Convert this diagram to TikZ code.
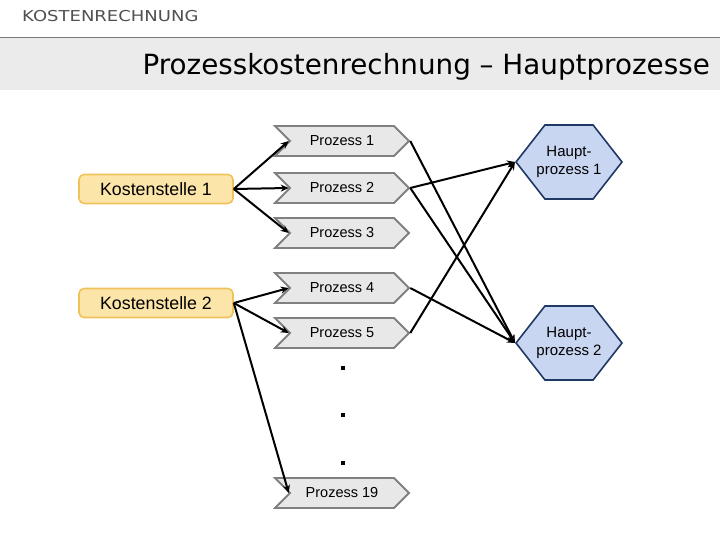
\documentclass[tikz,border=0pt]{standalone}
\usepackage{fontspec}
\setmainfont{Liberation Sans}
\newfontfamily\titlefont{DejaVu Sans}
\usepackage{tikz}
\usetikzlibrary{shapes.symbols, arrows.meta}
\definecolor{bandgray}{RGB}{235,235,235}
\definecolor{linegray}{RGB}{120,120,120}
\definecolor{headgray}{RGB}{80,80,80}
\definecolor{kfill}{RGB}{252,229,168}
\definecolor{kdraw}{RGB}{240,194,90}
\definecolor{pfill}{RGB}{232,232,232}
\definecolor{pdraw}{RGB}{128,128,128}
\definecolor{hfill}{RGB}{201,214,242}
\definecolor{hdraw}{RGB}{31,56,100}
\tikzstyle{kstelle} = [rectangle, rounded corners=5pt, minimum width=154pt, minimum height=29pt, fill=kfill, draw=kdraw, line width=1.6pt, font=\fontsize{17.8}{20}\selectfont]
\tikzstyle{prozess} = [signal, signal to=east, signal from=west, signal pointer angle=90, minimum width=134pt, minimum height=30pt, fill=pfill, draw=pdraw, line width=1.8pt, font=\fontsize{14.5}{17}\selectfont]
\tikzstyle{haupt} = [signal, signal to=west and east, signal pointer angle=104, minimum width=106pt, minimum height=74pt, fill=hfill, draw=hdraw, line width=1.6pt]
\tikzstyle{hauptlabel} = [align=center, font=\fontsize{15}{18}\selectfont]
\tikzstyle{punkt} = [rectangle, fill=black, minimum size=3.5pt, inner sep=0pt]
\tikzstyle{arrow} = [line width=2pt, -{Stealth[length=8pt, width=7pt]}]

\begin{document}
\begin{tikzpicture}[x=1pt, y=-1pt]
   \useasboundingbox (0,0) rectangle (720,540);
   % Kopfzeile
   \fill [bandgray] (0,38) rectangle (720,90);
   \draw [linegray, line width=1pt] (0,37.5) -- (720,37.5);
   \node (kopf) [anchor=base west, inner sep=0pt, text=headgray, font=\titlefont\fontsize{15}{17}\selectfont] at (22,22) {\scalebox{1.2}[1]{KOSTENRECHNUNG}};
   \node (titel) [anchor=base east, inner sep=0pt, font=\titlefont\fontsize{27.8}{30}\selectfont] at (710,75) {Prozesskostenrechnung – Hauptprozesse};
   % Kostenstellen
   \node (k1) [kstelle] at (156,189) {Kostenstelle 1};
   \node (k2) [kstelle] at (156,303) {Kostenstelle 2};
   % Prozesse
   \node (p1) [prozess] at (342,141) {Prozess 1};
   \node (p2) [prozess] at (342,188) {Prozess 2};
   \node (p3) [prozess] at (342,233) {Prozess 3};
   \node (p4) [prozess] at (342,288) {Prozess 4};
   \node (p5) [prozess] at (342,333) {Prozess 5};
   \node (p19) [prozess] at (342,493) {Prozess 19};
   \foreach \y/\n in {368/1, 415/2, 463/3}
      \node (d\n) [punkt] at (343,\y) {};
   % Hauptprozesse
   \node (h1) [haupt, label={[hauptlabel]center:Haupt-\\prozess 1}] at (569,162) {};
   \node (h2) [haupt, label={[hauptlabel]center:Haupt-\\prozess 2}] at (569,343) {};
   % Pfeile
   \foreach \p in {p1,p2,p3}
      \draw [arrow] (k1.east) -- (\p.west);
   \foreach \p in {p4,p5,p19}
      \draw [arrow] (k2.east) -- (\p.west);
   \draw [arrow] (p2.east) -- (h1.west);
   \draw [arrow] (p5.east) -- (h1.west);
   \draw [arrow] (p1.east) -- (h2.west);
   \draw [arrow] (p2.east) -- (h2.west);
   \draw [arrow] (p4.east) -- (h2.west);
\end{tikzpicture}
\end{document}
